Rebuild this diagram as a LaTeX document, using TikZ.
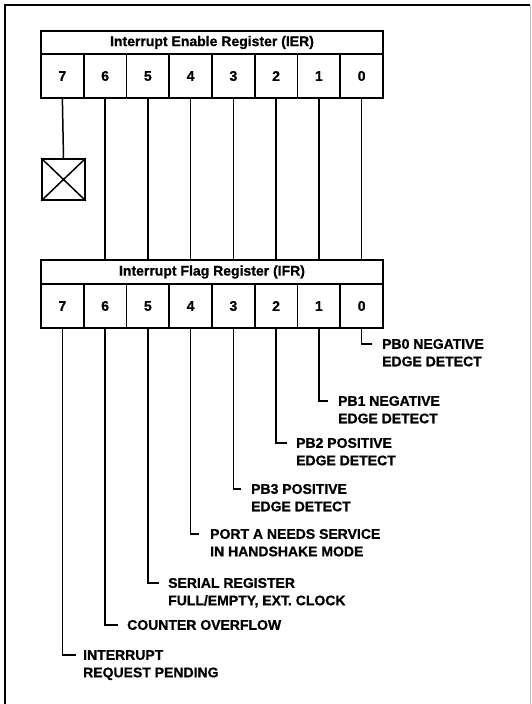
\documentclass[tikz,border=0pt]{standalone}
\usepackage{fontspec}
\setmainfont{Liberation Sans}[BoldFeatures={FakeBold=0.8}]
\begin{document}
\begin{tikzpicture}[x=1pt,y=-1pt,
  every node/.style={font=\bfseries\fontsize{14}{17.5}\selectfont},
  reg/.style={draw, line width=1.6pt, inner sep=0pt},
  wire/.style={line width=1.5pt},
  lab/.style={anchor=base west, align=left, inner sep=0pt}]
\useasboundingbox (0,0) rectangle (531,704);
\draw[line width=1.5pt] (5,720) -- (5,5) -- (530,5);
\draw[gray!50, line width=0.6pt] (530,5) -- (530,720);
% IER
\node[reg, minimum width=342, minimum height=23] (ier) at (212,42.5) {Interrupt Enable Register (IER)};
\foreach \b in {0,...,7}
  \node[reg, minimum width=42.75, minimum height=44] (e\b) at ({383-42.75*(\b+0.5)},76) {\b};
% IFR
\node[reg, minimum width=342, minimum height=24] (ifr) at (212,272) {Interrupt Flag Register (IFR)};
\foreach \b in {0,...,7}
  \node[reg, minimum width=42.75, minimum height=44] (f\b) at ({383-42.75*(\b+0.5)},306) {\b};
% X box
\node[reg, minimum width=43, minimum height=41] (xb) at (63.5,179.5) {};
\draw[wire] (xb.north west) -- (xb.south east) (xb.north east) -- (xb.south west);
\draw[wire] (e7.south) -- (xb.north);
\foreach \b in {0,...,6}
  \draw[wire] (e\b.south) -- (e\b.south |- ifr.north);
% labels
\coordinate (k0) at (372,344);
\coordinate (k1) at (328,401);
\coordinate (k2) at (287,443);
\coordinate (k3) at (241,489);
\coordinate (k4) at (199,534);
\coordinate (k5) at (159,583);
\coordinate (k6) at (118,625);
\coordinate (k7) at (76,655);
\foreach \b in {0,...,7}
  \draw[wire] (f\b.south) |- (k\b);
\node[lab] (t0) at (382,366.3) {PB0 NEGATIVE\\EDGE DETECT};
\node[lab] (t1) at (338,423.3) {PB1 NEGATIVE\\EDGE DETECT};
\node[lab] (t2) at (296,465.3) {PB2 POSITIVE\\EDGE DETECT};
\node[lab] (t3) at (251,511.3) {PB3 POSITIVE\\EDGE DETECT};
\node[lab] (t4) at (210,556.3) {PORT A NEEDS SERVICE\\IN HANDSHAKE MODE};
\node[lab] (t5) at (168,605.3) {SERIAL REGISTER\\FULL/EMPTY, EXT. CLOCK};
\node[lab] (t6) at (127,629.8) {COUNTER OVERFLOW};
\node[lab] (t7) at (83,677.3) {INTERRUPT\\REQUEST PENDING};
\end{tikzpicture}
\end{document}
